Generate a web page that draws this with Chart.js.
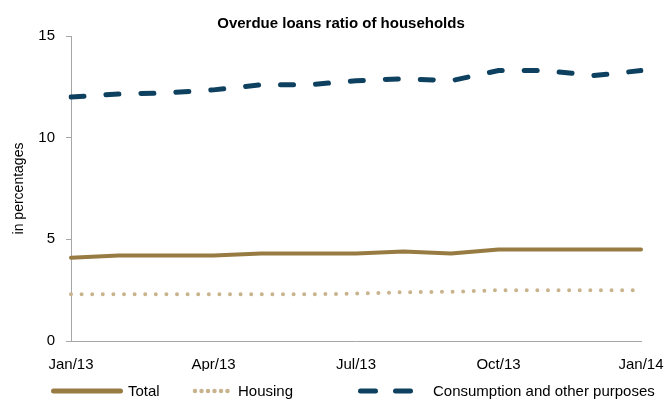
<!DOCTYPE html>
<html>
<head>
<meta charset="utf-8">
<script src="https://cdn.jsdelivr.net/npm/chart.js@4.4.1/dist/chart.umd.min.js"></script>
<style>
  html, body { margin: 0; padding: 0; background: #ffffff; }
  #wrap { width: 665px; height: 403px; }
</style>
</head>
<body>
<div id="wrap"><canvas id="chart"></canvas></div>
<script>
// Monthly observations, Jan/13 .. Jan/14 (in percentages)
const months = ['Jan/13', 'Feb/13', 'Mar/13', 'Apr/13', 'May/13', 'Jun/13', 'Jul/13',
                'Aug/13', 'Sep/13', 'Oct/13', 'Nov/13', 'Dec/13', 'Jan/14'];
const total = [4.1, 4.2, 4.2, 4.2, 4.3, 4.3, 4.3, 4.4, 4.3, 4.5, 4.5, 4.5, 4.5];
const housing = [2.3, 2.3, 2.3, 2.3, 2.3, 2.3, 2.33, 2.4, 2.42, 2.5, 2.5, 2.5, 2.5];
const consumption = [12.0, 12.15, 12.2, 12.35, 12.6, 12.6, 12.8, 12.9, 12.8, 13.3, 13.3, 13.05, 13.3];
const yTicks = [0, 5, 10, 15];

const FONT = '"Liberation Sans", Arial, sans-serif';
const AXIS_GREY = '#a6a6a6';

// Draws the centred title and the legend row under the axis
const titleAndLegend = {
    id: 'titleAndLegend',
    afterDraw(chart, args, opts) {
        const c = chart.ctx;
        c.save();
        c.fillStyle = '#000000';
        c.textBaseline = 'middle';

        c.font = 'bold 15px ' + FONT;
        c.textAlign = 'center';
        c.fillText(opts.title, opts.titleX, opts.titleY);

        c.font = '15px ' + FONT;
        c.textAlign = 'left';
        opts.items.forEach((it, i) => {
            const ds = chart.data.datasets[i];
            c.beginPath();
            c.strokeStyle = ds.borderColor;
            c.lineWidth = it.width;
            c.lineCap = 'round';
            c.setLineDash(it.dash);
            c.moveTo(it.x0, opts.legendY);
            c.lineTo(it.x1, opts.legendY);
            c.stroke();
            c.setLineDash([]);
            c.fillText(ds.label, it.textX, opts.legendY + 1);
        });
        c.restore();
    }
};

const ctx = document.getElementById('chart').getContext('2d');

new Chart(ctx, {
    type: 'line',
    data: {
        labels: months,
        datasets: [{
            label: 'Total',
            data: total,
            borderColor: '#977b42',
            borderWidth: 4,
            borderCapStyle: 'round',
            borderJoinStyle: 'round',
            pointRadius: 0,
            tension: 0
        }, {
            label: 'Housing',
            data: housing,
            borderColor: '#c8b38c',
            borderWidth: 4,
            borderDash: [0, 10.6],
            borderCapStyle: 'round',
            pointRadius: 0,
            tension: 0
        }, {
            label: 'Consumption and other purposes',
            data: consumption,
            borderColor: '#0e405f',
            borderWidth: 5,
            borderDash: [13, 22],
            borderCapStyle: 'round',
            pointRadius: 0,
            tension: 0
        }]
    },
    plugins: [titleAndLegend],
    options: {
        responsive: true,
        maintainAspectRatio: false,
        animation: false,
        layout: { padding: { left: 0, right: 24, top: 36, bottom: 32 } },
        scales: {
            x: {
                offset: false,
                grid: { display: false, drawTicks: false },
                border: { color: AXIS_GREY, width: 1 },
                afterFit: function (axis) {
                    axis.height = 30;
                    axis.paddingRight = 0;  // let layout padding decide the right edge
                },
                ticks: {
                    autoSkip: false,
                    maxRotation: 0,
                    padding: 15,
                    color: '#000000',
                    font: { family: FONT, size: 15 },
                    // only every third month is labelled
                    callback: function (val, i) { return i % 3 === 0 ? months[i] : ''; }
                }
            },
            y: {
                min: 0,
                max: 15,
                afterBuildTicks: function (axis) { axis.ticks = yTicks.map(v => ({ value: v })); },
                afterFit: function (axis) { axis.width = 71; },
                grid: { display: true, drawOnChartArea: false, tickLength: 5, color: AXIS_GREY },
                border: { color: AXIS_GREY, width: 1 },
                ticks: {
                    padding: 11,
                    color: '#000000',
                    font: { family: FONT, size: 15 }
                },
                title: {
                    display: true,
                    text: 'in percentages',
                    color: '#000000',
                    padding: { top: 11, bottom: 0 },
                    font: { family: FONT, size: 14 }
                }
            }
        },
        plugins: {
            legend: { display: false },
            tooltip: { enabled: false },
            titleAndLegend: {
                title: 'Overdue loans ratio of households',
                titleX: 341,
                titleY: 24,
                legendY: 391,
                items: [
                    { x0: 53.5, x1: 120.5, width: 5, dash: [], textX: 128 },
                    { x0: 195, x1: 234, width: 4.5, dash: [0, 6.5], textX: 238 },
                    { x0: 360.5, x1: 410.5, width: 5, dash: [15, 20], textX: 433 }
                ]
            }
        }
    }
});
</script>
</body>
</html>
